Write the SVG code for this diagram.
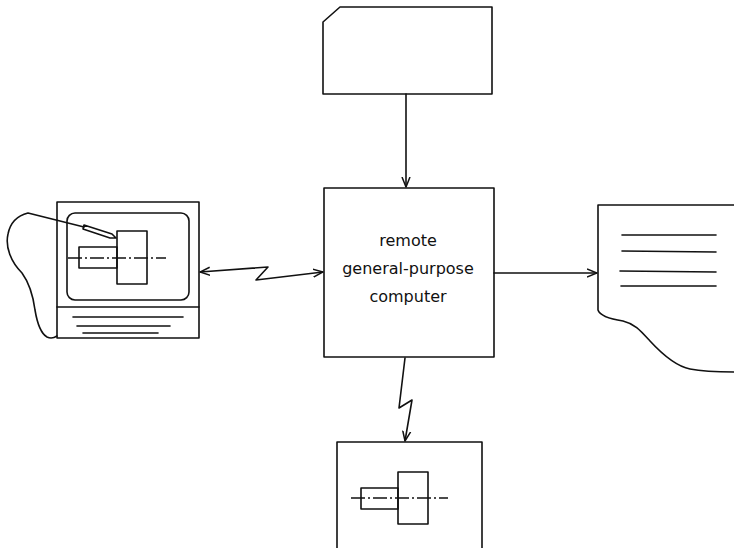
<svg xmlns="http://www.w3.org/2000/svg" width="734" height="548" viewBox="0 0 734 548">
  <style>
    .ln { fill: none; stroke: #111; stroke-width: 1.6; stroke-linejoin: round; stroke-linecap: round; }
    .cl { fill: none; stroke: #111; stroke-width: 1.4; stroke-dasharray: 14 3 2 3; }
    .lbl { font-family: "DejaVu Sans", "Liberation Sans", sans-serif; font-size: 16px; fill: #111; text-anchor: middle; }
  </style>
  <defs>
    <marker id="arr" viewBox="0 0 10 10" refX="10" refY="5" markerWidth="10" markerHeight="10" markerUnits="userSpaceOnUse" orient="auto-start-reverse">
      <path d="M0,1 L10,5 L0,9" fill="none" stroke="#111" stroke-width="1.5"/>
    </marker>
  </defs>
  <rect width="734" height="548" fill="#fff"/>

  <!-- punched card input -->
  <g id="card">
    <path class="ln" d="M323,22 L340,7 L492,7 L492,94 L323,94 Z"/>
  </g>

  <!-- central computer -->
  <g id="computer">
    <rect class="ln" x="324" y="188" width="170" height="169"/>
    <text class="lbl" x="408" y="246">remote</text>
    <text class="lbl" x="408" y="274">general-purpose</text>
    <text class="lbl" x="408" y="302">computer</text>
  </g>

  <!-- graphics terminal with light pen -->
  <g id="terminal">
    <rect class="ln" x="57" y="202" width="142" height="136"/>
    <line class="ln" x1="57" y1="307" x2="199" y2="307"/>
    <rect class="ln" x="67" y="213" width="122" height="87" rx="8"/>
    <line class="ln" x1="73" y1="317" x2="183" y2="317"/>
    <line class="ln" x1="77" y1="326" x2="170" y2="326"/>
    <line class="ln" x1="83" y1="333" x2="158" y2="333"/>
    <rect class="ln" x="117" y="231" width="30" height="53"/>
    <rect class="ln" x="79" y="247" width="38" height="21"/>
    <line class="cl" x1="68" y1="258" x2="166" y2="258"/>
    <path class="ln" d="M84,225 L112,234 L116,238 L110,238 L83,229 Z"/>
    <path class="ln" d="M84,227 L28,213 C16,216 10,224 8,234 C5,247 11,262 22,273 C30,284 33,295 35,310 C37,322 40,333 47,337 C51,339 54,338 57,336"/>
  </g>

  <!-- printed output -->
  <g id="printout">
    <path class="ln" d="M734,205 L598,205 L598,310 C600,316 610,319 623,321 C635,324 640,330 650,341 C662,354 675,366 690,369 C705,372 720,372 734,372"/>
    <line class="ln" x1="622" y1="235" x2="716" y2="235"/>
    <line class="ln" x1="622" y1="251" x2="716" y2="252"/>
    <line class="ln" x1="620" y1="271" x2="716" y2="272"/>
    <line class="ln" x1="621" y1="286" x2="716" y2="286"/>
  </g>

  <!-- plotter / drawing output -->
  <g id="plotter">
    <path class="ln" d="M337,548 L337,442 L482,442 L482,548"/>
    <rect class="ln" x="398" y="472" width="30" height="52"/>
    <rect class="ln" x="361" y="488" width="37" height="21"/>
    <line class="cl" x1="351" y1="498" x2="448" y2="498"/>
  </g>

  <!-- connectors -->
  <g id="connectors">
    <line class="ln" x1="406" y1="94" x2="406" y2="187" marker-end="url(#arr)"/>
    <line class="ln" x1="494" y1="273" x2="597" y2="273" marker-end="url(#arr)"/>
    <polyline class="ln" points="200,272 268,267 256,280 323,272" marker-start="url(#arr)" marker-end="url(#arr)"/>
    <polyline class="ln" points="405,358 399,408 412,400 405,441" marker-end="url(#arr)"/>
  </g>
</svg>
